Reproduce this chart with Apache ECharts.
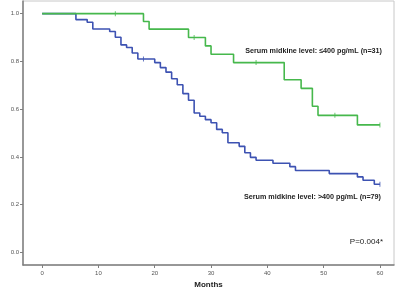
<!DOCTYPE html>
<html>
<head>
<meta charset="utf-8">
<script src="https://cdn.jsdelivr.net/npm/echarts@6/dist/echarts.min.js"></script>
<style>
  html, body { margin: 0; padding: 0; background: #fff; }
  #main { width: 400px; height: 292px; }
</style>
</head>
<body>
<div id="main"></div>
<script>
// low midkine group (n=31)
var lowTimes = [0, 18, 19, 26, 29, 30, 34, 43, 46, 48, 49, 56, 60];
var lowSurv = [1, 0.967, 0.935, 0.90, 0.865, 0.83, 0.795, 0.723, 0.687, 0.612, 0.574, 0.534, 0.534];
var lowCensored = [13, 27, 38, 52, 60];

// high midkine group (n=79)
var highTimes = [0, 6, 8, 9, 12, 13, 14, 15, 16, 17, 20, 21, 22, 23, 24, 25, 26, 27, 28, 29, 30,
    31, 32, 33, 35, 36, 37, 38, 41, 44, 45, 51, 56, 57, 59, 60];
var highSurv = [1, 0.975, 0.964, 0.936, 0.925, 0.901, 0.869, 0.858, 0.835, 0.81, 0.795, 0.774, 0.755,
    0.727, 0.702, 0.665, 0.637, 0.584, 0.570, 0.556, 0.543, 0.515, 0.501, 0.459, 0.444, 0.417,
    0.398, 0.386, 0.373, 0.359, 0.343, 0.330, 0.316, 0.302, 0.285, 0.285];
var highCensored = [18, 60];

var xTicks = [0, 10, 20, 30, 40, 50, 60];
var yTicks = [0, 0.2, 0.4, 0.6, 0.8, 1.0];

var GREEN = '#46b84c';
var BLUE = '#3d52b2';

function pairs(ts, ss) {
    return ts.map(function (t, i) { return [t, ss[i]]; });
}
// survival value at time t (step function)
function survAt(ts, ss, t) {
    var v = ss[0];
    for (var i = 0; i < ts.length; i++) {
        if (ts[i] <= t) v = ss[i];
    }
    return v;
}
function censorPts(cs, ts, ss) {
    return cs.map(function (t) { return [t, survAt(ts, ss, t)]; });
}

var chart = echarts.init(document.getElementById('main'));

var axisGrey = '#7f7f7f';
var labelStyle = { fontFamily: 'Liberation Sans', fontSize: 6, color: '#555' };

var option = {
    animation: false,
    backgroundColor: '#fff',
    grid: {
        left: 23, right: 6, top: 1, bottom: 27,
        show: true, borderColor: '#c8c8c8', borderWidth: 1,
        outerBoundsMode: 'none'
    },
    xAxis: {
        type: 'value',
        min: -3.4, max: 62.5,
        name: 'Months',
        nameLocation: 'middle',
        nameGap: 16,
        nameTextStyle: { fontFamily: 'Liberation Sans', fontWeight: 'bold', fontSize: 8, color: '#222' },
        axisLine: { show: true, onZero: false, lineStyle: { color: axisGrey, width: 1.5 } },
        axisTick: { show: true, length: 3, customValues: xTicks, lineStyle: { color: axisGrey } },
        axisLabel: Object.assign({ customValues: xTicks, margin: 5 }, labelStyle),
        splitLine: { show: false }
    },
    yAxis: {
        type: 'value',
        min: -0.053, max: 1.053,
        name: 'Overall survival rate',
        nameLocation: 'middle',
        nameGap: 18,
        nameTextStyle: { fontFamily: 'Liberation Sans', fontWeight: 'bold', fontSize: 8, color: '#222' },
        axisLine: { show: true, onZero: false, lineStyle: { color: axisGrey, width: 1.5 } },
        axisTick: { show: true, length: 3, customValues: yTicks, lineStyle: { color: axisGrey } },
        axisLabel: Object.assign({
            customValues: yTicks, margin: 4,
            formatter: function (v) { return v.toFixed(1); }
        }, labelStyle),
        splitLine: { show: false }
    },
    series: [
        {
            type: 'line', step: 'end', symbol: 'none',
            lineStyle: { color: BLUE, width: 1.6 },
            data: pairs(highTimes, highSurv), z: 3
        },
        {
            type: 'line', step: 'end', symbol: 'none',
            lineStyle: { color: GREEN, width: 1.6 },
            data: pairs(lowTimes, lowSurv), z: 4
        },
        {
            type: 'scatter', symbol: 'rect', symbolSize: [1, 5],
            itemStyle: { color: GREEN },
            data: censorPts(lowCensored, lowTimes, lowSurv), z: 5
        },
        {
            type: 'scatter', symbol: 'rect', symbolSize: [1, 5],
            itemStyle: { color: BLUE },
            data: censorPts(highCensored, highTimes, highSurv), z: 5
        }
    ],
    graphic: [
        {
            type: 'text', right: 18, top: 48,
            style: { text: 'Serum midkine level: ≤400 pg/mL (n=31)', font: 'bold 7.2px "Liberation Sans"', fill: '#222' }
        },
        {
            type: 'text', right: 19, top: 194,
            style: { text: 'Serum midkine level: >400 pg/mL (n=79)', font: 'bold 7.2px "Liberation Sans"', fill: '#222' }
        },
        {
            type: 'text', right: 17, top: 238,
            style: { text: 'P=0.004*', font: '8px "Liberation Sans"', fill: '#222' }
        }
    ]
};

chart.setOption(option);
</script>
</body>
</html>
